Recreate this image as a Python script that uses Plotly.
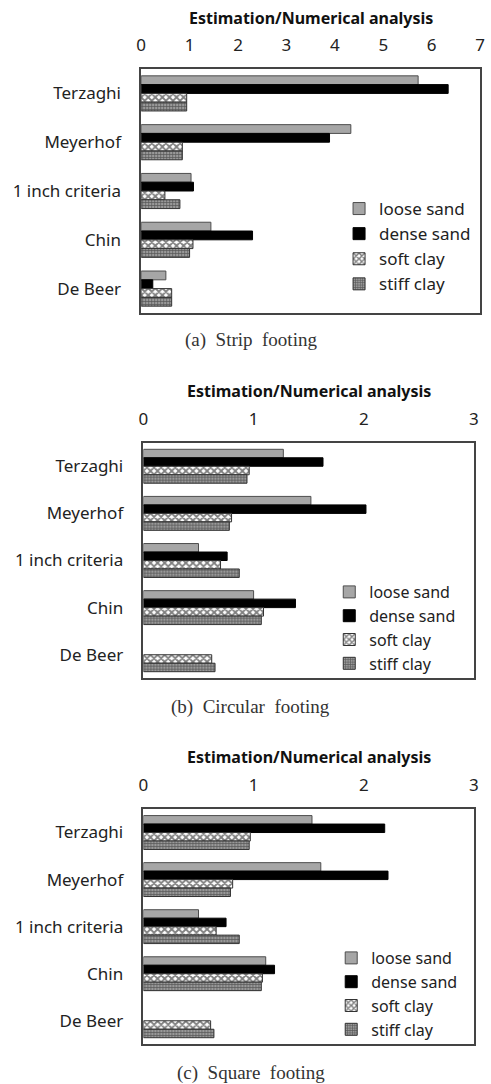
import plotly.graph_objects as go

# categories (top to bottom)
categories = ["Terzaghi", "Meyerhof", "1 inch criteria", "Chin", "De Beer"]
series_names = ["loose sand", "dense sand", "soft clay", "stiff clay"]

# (a) Strip footing
strip_loose = [5.72, 4.33, 1.03, 1.44, 0.51]
strip_dense = [6.34, 3.89, 1.08, 2.30, 0.24]
strip_soft = [0.94, 0.85, 0.49, 1.07, 0.63]
strip_stiff = [0.94, 0.85, 0.80, 1.00, 0.63]

# (b) Circular footing
circ_loose = [1.27, 1.52, 0.50, 1.00, None]
circ_dense = [1.63, 2.02, 0.76, 1.38, None]
circ_soft = [0.96, 0.80, 0.70, 1.09, 0.62]
circ_stiff = [0.94, 0.78, 0.87, 1.07, 0.65]

# (c) Square footing
sq_loose = [1.53, 1.61, 0.50, 1.11, None]
sq_dense = [2.19, 2.22, 0.75, 1.19, None]
sq_soft = [0.97, 0.81, 0.66, 1.08, 0.61]
sq_stiff = [0.96, 0.79, 0.87, 1.07, 0.64]

x_title = "Estimation/Numerical analysis"
captions = ["(a)  Strip  footing", "(b)  Circular  footing", "(c)  Square  footing"]

W, H = 491, 1084
SANS = "Noto Sans"
SERIF = "Liberation Serif"


def px_x(v):
    return v / W


def px_y(v):
    return 1 - v / H


# panel geometry in pixels:
# (left, right, top, bottom, title_y, caption_y, legend_x, legend_top, xmax, legend size)
panels = [
    (139, 485, 69, 313, 18, 340, 341, 191, 7, 17),
    (141.3, 478.7, 442.7, 678.3, 391, 707, 331, 575, 3, 16),
    (141.3, 478.7, 809, 1044.3, 757, 1073, 333, 941, 3, 16),
]
data = [
    [strip_loose, strip_dense, strip_soft, strip_stiff],
    [circ_loose, circ_dense, circ_soft, circ_stiff],
    [sq_loose, sq_dense, sq_soft, sq_stiff],
]

styles = [
    dict(color="#a6a6a6", line=dict(color="#4d4d4d", width=1)),
    dict(color="#000000", line=dict(color="#000000", width=1)),
    dict(color="white", line=dict(color="#333333", width=1),
         pattern=dict(shape="x", fgcolor="black", bgcolor="white", size=5, solidity=0.6)),
    dict(color="#777777", line=dict(color="#333333", width=1),
         pattern=dict(shape="+", fgcolor="#111111", bgcolor="#999999", size=3, solidity=0.4)),
]

fig = go.Figure()
annotations = []

for i, (panel, vals) in enumerate(zip(panels, data)):
    sfx = "" if i == 0 else str(i + 1)
    leg = "legend" + sfx
    for name, v, st in zip(series_names, vals, styles):
        fig.add_trace(go.Bar(
            y=categories, x=v, name=name, orientation="h",
            marker=st, xaxis="x" + sfx, yaxis="y" + sfx, legend=leg,
        ))
    left, right, top, bottom, ty, cy, lx, ltop, xmax, lsize = panel
    fig.update_layout({
        "xaxis" + sfx: dict(
            domain=[px_x(left), px_x(right)], anchor="y" + sfx, side="top",
            range=[0, xmax], dtick=1, showgrid=False, zeroline=False,
            showline=True, mirror=True, linecolor="#444444", linewidth=1.5,
            ticks="outside", ticklen=9, tickcolor="rgba(0,0,0,0)",
            tickfont=dict(family=SANS, size=17, color="#222222"),
        ),
        "yaxis" + sfx: dict(
            domain=[px_y(bottom), px_y(top)], anchor="x" + sfx, type="category",
            categoryorder="array", categoryarray=categories, autorange="reversed",
            showgrid=False, zeroline=False, showline=True, mirror=True,
            linecolor="#444444", linewidth=1.5,
            ticks="outside", ticklen=15, tickcolor="rgba(0,0,0,0)",
            tickfont=dict(family=SANS, size=17, color="#222222"),
        ),
        leg: dict(
            x=px_x(lx), y=px_y(ltop), xanchor="left", yanchor="top",
            bgcolor="rgba(0,0,0,0)", traceorder="normal",
            font=dict(family=SANS, size=lsize, color="#222222"),
        ),
    })
    annotations.append(dict(
        text="<b>" + x_title + "</b>", xref="paper", yref="paper",
        x=px_x((left + right) / 2), y=px_y(ty), showarrow=False,
        xanchor="center", yanchor="middle",
        font=dict(family=SANS, size=16, color="#111111"),
    ))
    annotations.append(dict(
        text=captions[i], xref="paper", yref="paper",
        x=px_x(251), y=px_y(cy), showarrow=False,
        xanchor="center", yanchor="middle",
        font=dict(family=SERIF, size=19, color="#333333"),
    ))

fig.update_layout(
    width=W, height=H, margin=dict(l=0, r=0, t=0, b=0),
    paper_bgcolor="white", plot_bgcolor="white",
    barmode="group", bargap=0.28, bargroupgap=0,
    hovermode=False,
    annotations=annotations,
)

# drop the default 8px body margin so the figure fills the window exactly
fig.write_html(
    "out.html",
    config={"displayModeBar": False},
    post_script="document.body.style.margin='0';",
)
